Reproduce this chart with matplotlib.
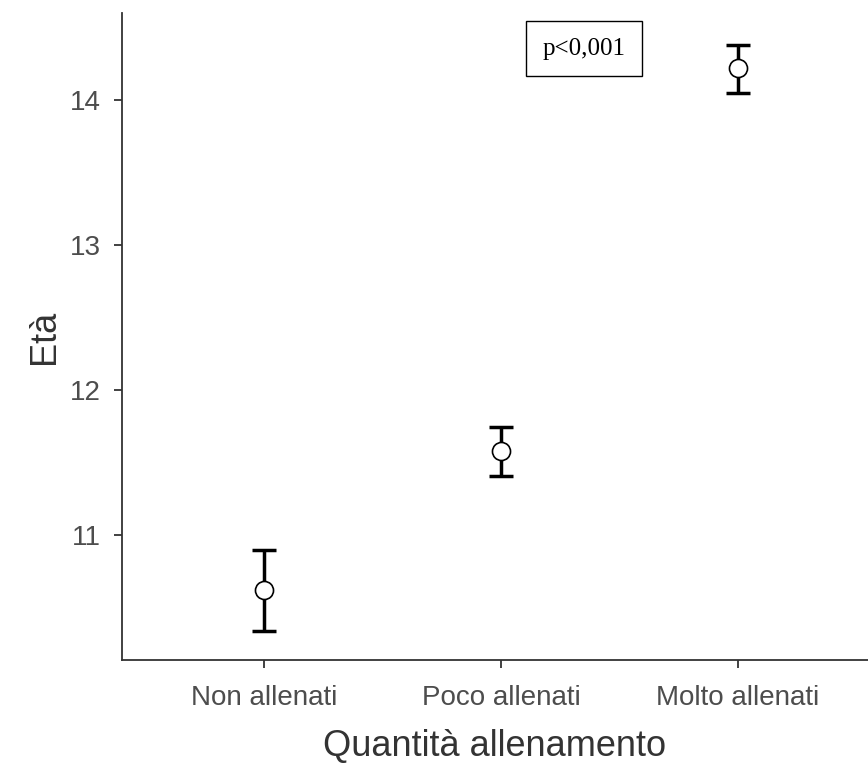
import numpy as np
import matplotlib.pyplot as plt

# data
groups = ['Non allenati', 'Poco allenati', 'Molto allenati']
means = [10.62, 11.58, 14.22]
lower = [10.34, 11.41, 14.05]
upper = [10.90, 11.745, 14.38]

plt.rcParams['font.family'] = ['Liberation Sans', 'DejaVu Sans']

fig = plt.figure(figsize=(8.68, 7.67), dpi=100)
ax = fig.add_axes([122 / 868, 107 / 767, 1 - 122 / 868, (660 - 13) / 767])

x = np.arange(len(groups))
yerr = [np.array(means) - np.array(lower), np.array(upper) - np.array(means)]
ax.errorbar(x, means, yerr=yerr, fmt='none', ecolor='black', elinewidth=2.5,
            capsize=8.3, capthick=2.5, zorder=2)
ax.plot(x, means, 'o', ms=13, mfc='white', mec='black', mew=1.2, zorder=3)

ax.set_xlim(-0.6, 2.55)
ax.set_ylim(10.14, 14.6)
ax.set_xticks(x)
ax.set_xticklabels(groups)
ax.set_yticks([11, 12, 13, 14])

for s in ['top', 'right']:
    ax.spines[s].set_visible(False)
for s in ['left', 'bottom']:
    ax.spines[s].set_color('#333333')
    ax.spines[s].set_linewidth(1.3)
ax.tick_params(length=6, width=1.3, color='#333333', labelcolor='#4d4d4d',
               labelsize=20)
ax.tick_params(axis='x', pad=12)
ax.tick_params(axis='y', pad=9)

ax.set_xlabel('Quantità allenamento', fontsize=26, color='#333333', labelpad=13)
ax.set_ylabel('Età', fontsize=26, color='#333333', labelpad=6)

ax.text(0.619, 0.945, 'p<0,001', transform=ax.transAxes, ha='center', va='center',
        fontsize=18, family=['Liberation Serif', 'DejaVu Serif'],
        bbox=dict(boxstyle='square,pad=0.65', fc='white', ec='black', lw=1))

fig.savefig('out.png', dpi=100)
